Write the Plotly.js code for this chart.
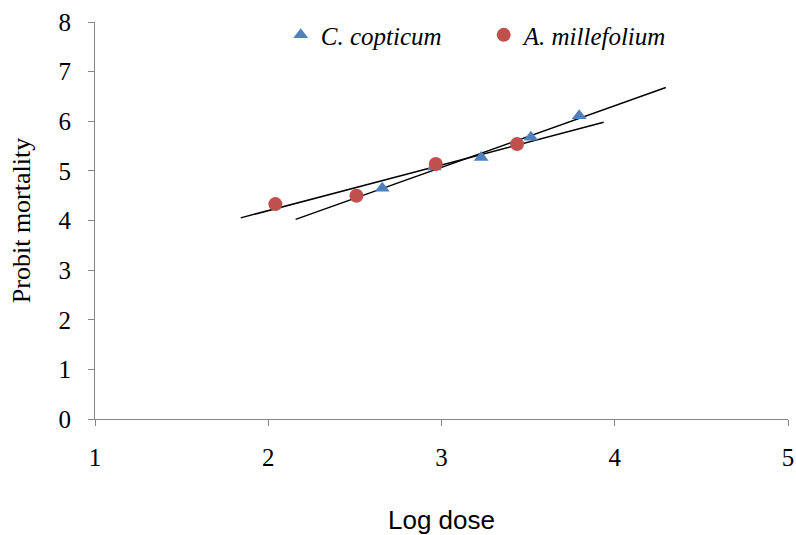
<!DOCTYPE html>
<html>
<head>
<meta charset="utf-8">
<script src="https://cdn.plot.ly/plotly-3.0.1.min.js"></script>
<style>html,body{margin:0;padding:0;background:#fff;overflow:hidden}#chart{width:796px;height:535px}</style>
</head>
<body>
<div id="chart"></div>
<script>
// Series data
const seriesNames = ["C. copticum", "A. millefolium"];
const copticumLogDose = [2.658, 2.958, 3.229, 3.516, 3.795];
const copticumProbit = [4.65, 5.08, 5.27, 5.68, 6.11];
const millefoliumLogDose = [2.041, 2.509, 2.967, 3.436];
const millefoliumProbit = [4.33, 4.50, 5.14, 5.54];
// Trendline forecast (backward, forward) in log-dose units
const copticumForecast = [0.5, 0.5];
const millefoliumForecast = [0.2, 0.5];
const xTicks = [1, 2, 3, 4, 5];
const yTicks = [0, 1, 2, 3, 4, 5, 6, 7, 8];

function linfit(xs, ys) {
  const n = xs.length;
  const mx = xs.reduce((a, b) => a + b, 0) / n;
  const my = ys.reduce((a, b) => a + b, 0) / n;
  let sxy = 0, sxx = 0;
  for (let i = 0; i < n; i++) { sxy += (xs[i] - mx) * (ys[i] - my); sxx += (xs[i] - mx) ** 2; }
  const m = sxy / sxx;
  return { m: m, b: my - m * mx };
}
function trend(xs, ys, fc) {
  const f = linfit(xs, ys);
  const x0 = Math.min(...xs) - fc[0], x1 = Math.max(...xs) + fc[1];
  return { x: [x0, x1], y: [f.m * x0 + f.b, f.m * x1 + f.b] };
}
const tC = trend(copticumLogDose, copticumProbit, copticumForecast);
const tA = trend(millefoliumLogDose, millefoliumProbit, millefoliumForecast);

const serif = "Liberation Serif, Times New Roman, serif";
const traces = [
  { x: tC.x, y: tC.y, mode: "lines", line: { color: "#000", width: 1.5 }, showlegend: false, hoverinfo: "skip" },
  { x: tA.x, y: tA.y, mode: "lines", line: { color: "#000", width: 1.5 }, showlegend: false, hoverinfo: "skip" },
  { x: copticumLogDose, y: copticumProbit, mode: "markers", name: seriesNames[0],
    marker: { symbol: "triangle-up", size: 13, color: "#4F81BD" } },
  { x: millefoliumLogDose, y: millefoliumProbit, mode: "markers", name: seriesNames[1],
    marker: { symbol: "circle", size: 14, color: "#C0504D" } }
];

const axisCommon = {
  showgrid: false, zeroline: false, showline: true, linecolor: "#868686", linewidth: 1,
  ticks: "outside", ticklen: 6, tickcolor: "#868686", tickwidth: 1,
  tickfont: { family: serif, size: 25, color: "#000" }
};

const layout = {
  width: 796, height: 535,
  margin: { l: 95, r: 8, t: 22, b: 116 },
  paper_bgcolor: "#fff", plot_bgcolor: "#fff",
  showlegend: true,
  legend: {
    orientation: "h", x: 0.268, xanchor: "left", y: 0.967, yanchor: "middle",
    font: { family: serif, size: 25, color: "#000", style: "italic" },
    entrywidth: 158, entrywidthmode: "pixels", bgcolor: "rgba(0,0,0,0)", itemwidth: 30
  },
  xaxis: Object.assign({}, axisCommon, {
    range: [1, 5], tickvals: xTicks, ticktext: xTicks.map(String),
    ticklabelstandoff: 10, ticklabeloverflow: "allow",
    title: { text: "Log dose", font: { family: "Liberation Sans, Arial, sans-serif", size: 26, color: "#000" }, standoff: 40 }
  }),
  yaxis: Object.assign({}, axisCommon, {
    range: [0, 8], tickvals: yTicks, ticktext: yTicks.map(String),
    ticklabelstandoff: 12,
    title: { text: "Probit mortality", font: { family: serif, size: 26, color: "#000" }, standoff: 20 }
  })
};

Plotly.newPlot("chart", traces, layout, { staticPlot: true, displayModeBar: false });
</script>
</body>
</html>
